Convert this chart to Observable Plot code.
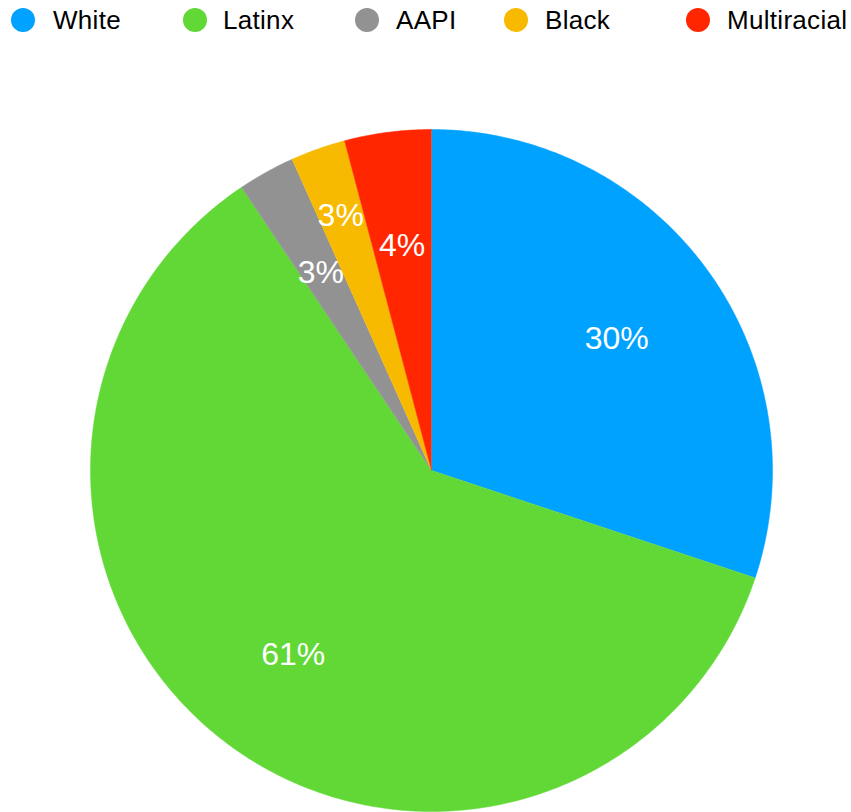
<!DOCTYPE html>
<html>
<head>
<meta charset="utf-8">
<script src="https://cdn.jsdelivr.net/npm/d3@7"></script>
<script src="https://cdn.jsdelivr.net/npm/@observablehq/plot@0.6"></script>
<style>
  html, body { margin: 0; padding: 0; background: #fff; }
  #legend { position: relative; width: 851px; height: 40px; font-family: "Liberation Sans", Arial, sans-serif; font-size: 26px; letter-spacing: 0.3px; color: #000; }
  .sw { position: absolute; top: 8px; width: 24px; height: 24px; border-radius: 50%; }
  .lb { position: absolute; top: 5px; line-height: 30px; }
  #chart svg { display: block; }
</style>
</head>
<body>
<div id="legend"></div>
<div id="chart"></div>
<script>
const categories = ["White", "Latinx", "AAPI", "Black", "Multiracial"];
const values = [30.1, 60.5, 2.7, 2.6, 4.1];
const labels = ["30%", "61%", "3%", "3%", "4%"];
const colors = ["#00a2ff", "#61d836", "#929292", "#f8ba00", "#ff2600"];

// legend (HTML, above the SVG)
const legendSwatchX = [11, 183, 355, 504, 686];
const legendTextX = [53, 223, 396, 545, 727];
const legend = document.getElementById("legend");
categories.forEach((c, i) => {
  const s = document.createElement("div");
  s.className = "sw";
  s.style.left = legendSwatchX[i] + "px";
  s.style.background = colors[i];
  legend.appendChild(s);
  const t = document.createElement("div");
  t.className = "lb";
  t.style.left = legendTextX[i] + "px";
  t.textContent = c;
  legend.appendChild(t);
});

// pie geometry from the values
const pie = d3.pie().sort(null).value(d => d.value);
const arcs = pie(categories.map((c, i) => ({cat: c, value: values[i], label: labels[i]})));

const slicePts = [];
for (const a of arcs) {
  slicePts.push({cat: a.data.cat, x: 0, y: 0});
  const n = Math.max(2, Math.ceil((a.endAngle - a.startAngle) / 0.01));
  for (let k = 0; k <= n; k++) {
    const t = a.startAngle + (a.endAngle - a.startAngle) * k / n;
    slicePts.push({cat: a.data.cat, x: Math.sin(t), y: Math.cos(t)});
  }
}

const labelRadius = {Black: 0.8};
const labelPts = arcs.map(a => {
  const m = (a.startAngle + a.endAngle) / 2;
  const r = labelRadius[a.data.cat] ?? 0.67;
  return {label: a.data.label, x: r * Math.sin(m), y: r * Math.cos(m)};
});

const cx = 431, cy = 430, R = 341;
const chart = Plot.plot({
  width: 851,
  height: 772,
  margin: 0,
  x: {domain: [-1, 1], range: [cx - R, cx + R], axis: null},
  y: {domain: [-1, 1], range: [cy + R, cy - R], axis: null},
  color: {domain: categories, range: colors},
  marks: [
    Plot.line(slicePts, {x: "x", y: "y", z: "cat", fill: "cat", stroke: "cat", strokeWidth: 0.5, curve: "linear"}),
    Plot.text(labelPts, {x: "x", y: "y", dy: 2, text: "label", fill: "white", fontSize: 32, fontFamily: "Liberation Sans, Arial, sans-serif", textAnchor: "middle", lineAnchor: "middle"})
  ]
});
document.getElementById("chart").appendChild(chart);
</script>
</body>
</html>
